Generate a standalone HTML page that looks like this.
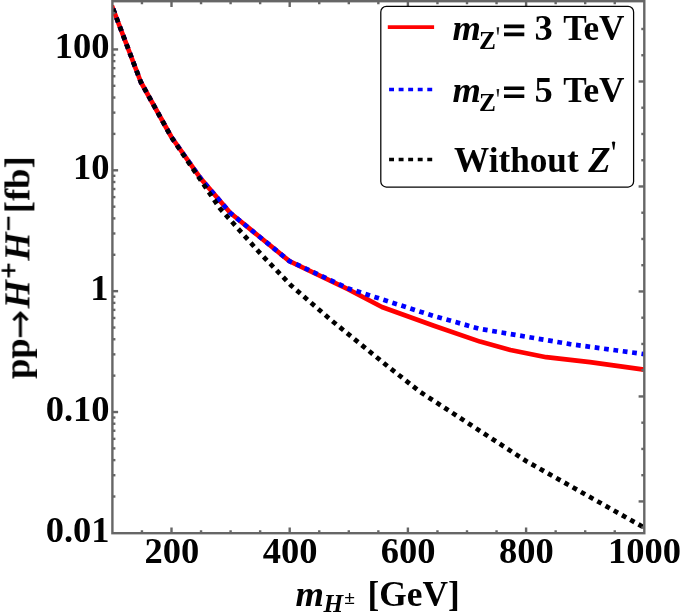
<!DOCTYPE html>
<html><head><meta charset="utf-8"><title>Chart</title>
<style>html,body{margin:0;padding:0;background:#fff;}svg{display:block;}text{font-family:"Liberation Serif",serif;font-weight:bold;fill:#000;}</style>
</head><body>
<svg width="681" height="616" viewBox="0 0 681 616">
<rect x="0" y="0" width="681" height="616" fill="#fff"/>
<clipPath id="c"><rect x="112.4" y="1.2" width="531.9" height="532.0"/></clipPath>
<g clip-path="url(#c)" fill="none" stroke-linejoin="round">
<polyline points="111.8,5.5 140.8,82.0 171.4,137.0 200.6,178.4 230.4,213.0 289.4,261.1 348.4,289.4 381.9,307.0 433.9,325.7 480.0,341.6 510.4,350.0 546.2,357.2 590.0,362.2 644.0,369.6" stroke="#ff0000" stroke-width="4.7"/>
<polyline points="111.8,5.5 140.8,82.0 171.4,137.0 200.6,178.4 230.4,213.0 289.4,261.1 348.4,288.5 433.9,316.1 480.0,328.9 570.0,344.1 617.3,350.5 644.0,354.1" stroke="#0000ff" stroke-width="4.7" stroke-dasharray="4.78 4.66" stroke-dashoffset="5.79"/>
<polyline points="111.8,5.5 140.8,82.0 171.4,137.3 200.6,180.0 220.0,208.5 259.0,252.0 291.1,285.5 319.4,310.0 330.0,319.2 385.8,364.7 420.0,391.8 526.4,461.2 644.0,527.5" stroke="#000000" stroke-width="4.7" stroke-dasharray="4.78 4.66" stroke-dashoffset="5.79"/>
</g>
<g stroke="#666666" stroke-width="2.4" fill="none">
<path d="M141.95 533.2 v-3.0 M141.95 1.2 v3.0"/>
<path d="M171.50 533.2 v-5.7 M171.50 1.2 v5.7"/>
<path d="M201.05 533.2 v-3.0 M201.05 1.2 v3.0"/>
<path d="M230.60 533.2 v-3.0 M230.60 1.2 v3.0"/>
<path d="M260.15 533.2 v-3.0 M260.15 1.2 v3.0"/>
<path d="M289.70 533.2 v-5.7 M289.70 1.2 v5.7"/>
<path d="M319.25 533.2 v-3.0 M319.25 1.2 v3.0"/>
<path d="M348.80 533.2 v-3.0 M348.80 1.2 v3.0"/>
<path d="M378.35 533.2 v-3.0 M378.35 1.2 v3.0"/>
<path d="M407.90 533.2 v-5.7 M407.90 1.2 v5.7"/>
<path d="M437.45 533.2 v-3.0 M437.45 1.2 v3.0"/>
<path d="M467.00 533.2 v-3.0 M467.00 1.2 v3.0"/>
<path d="M496.55 533.2 v-3.0 M496.55 1.2 v3.0"/>
<path d="M526.10 533.2 v-5.7 M526.10 1.2 v5.7"/>
<path d="M555.65 533.2 v-3.0 M555.65 1.2 v3.0"/>
<path d="M585.20 533.2 v-3.0 M585.20 1.2 v3.0"/>
<path d="M614.75 533.2 v-3.0 M614.75 1.2 v3.0"/>
<path d="M112.4 496.51 h3.0"/>
<path d="M112.4 475.23 h3.0"/>
<path d="M112.4 460.13 h3.0"/>
<path d="M112.4 448.42 h3.0"/>
<path d="M112.4 438.84 h3.0"/>
<path d="M112.4 430.75 h3.0"/>
<path d="M112.4 423.74 h3.0"/>
<path d="M112.4 417.56 h3.0"/>
<path d="M112.4 412.03 h5.7"/>
<path d="M112.4 375.64 h3.0"/>
<path d="M112.4 354.36 h3.0"/>
<path d="M112.4 339.26 h3.0"/>
<path d="M112.4 327.55 h3.0"/>
<path d="M112.4 317.97 h3.0"/>
<path d="M112.4 309.88 h3.0"/>
<path d="M112.4 302.87 h3.0"/>
<path d="M112.4 296.69 h3.0"/>
<path d="M112.4 291.16 h5.7"/>
<path d="M112.4 254.77 h3.0"/>
<path d="M112.4 233.49 h3.0"/>
<path d="M112.4 218.39 h3.0"/>
<path d="M112.4 206.68 h3.0"/>
<path d="M112.4 197.10 h3.0"/>
<path d="M112.4 189.01 h3.0"/>
<path d="M112.4 182.00 h3.0"/>
<path d="M112.4 175.82 h3.0"/>
<path d="M112.4 170.29 h5.7"/>
<path d="M112.4 133.90 h3.0"/>
<path d="M112.4 112.62 h3.0"/>
<path d="M112.4 97.52 h3.0"/>
<path d="M112.4 85.81 h3.0"/>
<path d="M112.4 76.23 h3.0"/>
<path d="M112.4 68.14 h3.0"/>
<path d="M112.4 61.13 h3.0"/>
<path d="M112.4 54.95 h3.0"/>
<path d="M112.4 49.42 h5.7"/>
<path d="M112.4 13.03 h3.0"/>
<path d="M644.3 527.68 h-3.0"/>
<path d="M644.3 501.43 h-5.7"/>
<path d="M644.3 475.19 h-3.0"/>
<path d="M644.3 448.94 h-3.0"/>
<path d="M644.3 422.69 h-3.0"/>
<path d="M644.3 396.45 h-5.7"/>
<path d="M644.3 370.20 h-3.0"/>
<path d="M644.3 343.95 h-3.0"/>
<path d="M644.3 317.71 h-3.0"/>
<path d="M644.3 291.46 h-5.7"/>
<path d="M644.3 265.21 h-3.0"/>
<path d="M644.3 238.97 h-3.0"/>
<path d="M644.3 212.72 h-3.0"/>
<path d="M644.3 186.47 h-5.7"/>
<path d="M644.3 160.23 h-3.0"/>
<path d="M644.3 133.98 h-3.0"/>
<path d="M644.3 107.73 h-3.0"/>
<path d="M644.3 81.49 h-5.7"/>
<path d="M644.3 55.24 h-3.0"/>
<path d="M644.3 28.99 h-3.0"/>
</g>
<rect x="112.4" y="1.2" width="531.9" height="532.0" fill="none" stroke="#666666" stroke-width="2.4"/>
<g opacity="0.996">
<text x="109.5" y="58.1" font-size="36.5" text-anchor="end">100</text>
<text x="109.5" y="179.0" font-size="36.5" text-anchor="end">10</text>
<text x="108.6" y="299.9" font-size="36.5" text-anchor="end">1</text>
<text x="109.5" y="420.7" font-size="36.5" text-anchor="end">0.10</text>
<text x="109.5" y="541.6" font-size="36.5" text-anchor="end">0.01</text>
<text x="171.8" y="563.1" font-size="36.5" text-anchor="middle">200</text>
<text x="290.0" y="563.1" font-size="36.5" text-anchor="middle">400</text>
<text x="408.2" y="563.1" font-size="36.5" text-anchor="middle">600</text>
<text x="526.4" y="563.1" font-size="36.5" text-anchor="middle">800</text>
<text x="644.6" y="563.1" font-size="36.5" text-anchor="middle">1000</text>
<text x="295.4" y="605.5" font-size="36.5" font-style="italic">m</text>
<text x="323.6" y="612.3" font-size="25.3" font-style="italic">H</text>
<text x="344.3" y="604.3" font-size="19.5">±</text>
<text transform="translate(367.6,605.5) scale(0.982,1)" font-size="36">[GeV]</text>
<g transform="translate(29.4,378.9) rotate(-90)">
<text x="0" y="0" font-size="36.5">pp</text>
<path d="M41.8 -8.9 H65.8 M58.76 -15.94 L65.8 -8.9 L58.76 -1.86" stroke="#000" stroke-width="3" fill="none" stroke-linejoin="miter"/>
<text x="70.5" y="0" font-size="36.5" font-style="italic">H</text>
<path d="M101.5 -20.8 h13.8 M108.4 -27.7 v13.8" stroke="#000" stroke-width="2.5" fill="none"/>
<text x="118.2" y="0" font-size="36.5" font-style="italic">H</text>
<path d="M148.8 -20.9 h13.4" stroke="#000" stroke-width="2.5" fill="none"/>
<text x="165.8" y="0" font-size="36.5">[fb]</text>
</g>
<rect x="380.8" y="6.4" width="252.8" height="180.6" rx="5.5" ry="5.5" fill="#fff" stroke="#000" stroke-width="1.25"/>
<path d="M387.8 27.1 H434.1" stroke="#ff0000" stroke-width="3.8" fill="none"/>
<path d="M389.1 89.5 H433" stroke="#0000ff" stroke-width="3.7" stroke-dasharray="4.9 4.65" fill="none"/>
<path d="M389.1 159.5 H433" stroke="#000000" stroke-width="3.7" stroke-dasharray="4.9 4.65" fill="none"/>
<text x="452.4" y="40" font-size="36.5" font-style="italic">m</text>
<text x="478.9" y="48.8" font-size="25.3">Z</text>
<path d="M496.6 27.2 L499.2 27.2 L498.4 34.8 L497.5 34.8 Z" fill="#222"/>
<path d="M504 24.6 h20.3 v3.6 h-20.3 Z M504 32.6 h20.3 v3.6 h-20.3 Z" fill="#000"/>
<text x="534.4" y="40" font-size="36.5">3</text>
<text transform="translate(563.2,40) scale(0.965,1)" font-size="36.5">TeV</text>
<text x="452.4" y="101.9" font-size="36.5" font-style="italic">m</text>
<text x="478.9" y="110.7" font-size="25.3">Z</text>
<path d="M496.6 89.10000000000001 L499.2 89.10000000000001 L498.4 96.7 L497.5 96.7 Z" fill="#222"/>
<path d="M504 86.5 h20.3 v3.6 h-20.3 Z M504 94.5 h20.3 v3.6 h-20.3 Z" fill="#000"/>
<text x="534.4" y="101.9" font-size="36.5">5</text>
<text transform="translate(563.2,101.9) scale(0.965,1)" font-size="36.5">TeV</text>
<text transform="translate(454.1,172) scale(0.9647,1)" font-size="36.5">Without</text>
<text x="588.2" y="172" font-size="36.5" font-style="italic">Z</text>
<path d="M611.9 142.6 Q611.9 141.6 613.5 141.6 Q615.2 141.6 615.2 142.6 L614.3 149.7 L613.3 149.7 Z" fill="#000"/>
</g>
</svg></body></html>
